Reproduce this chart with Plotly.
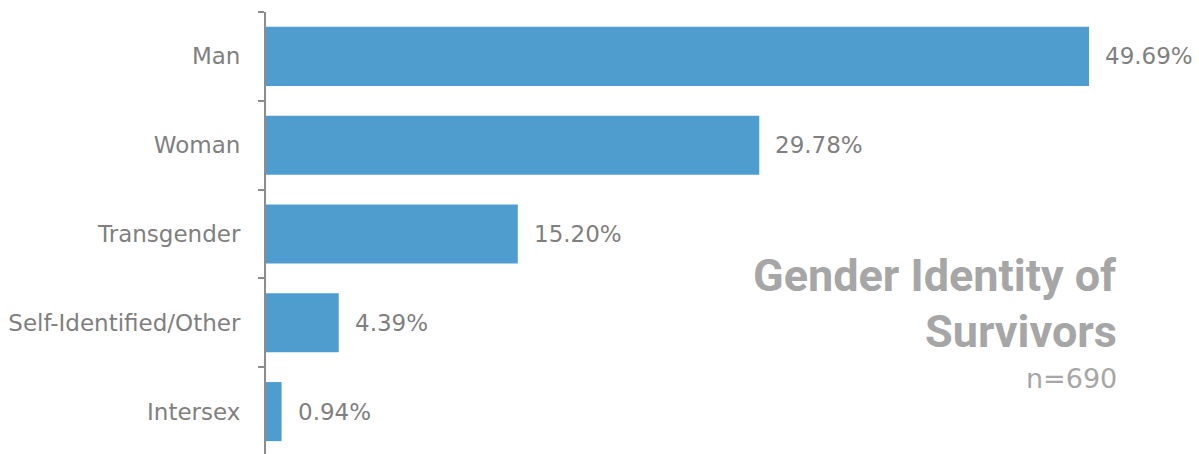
import plotly.graph_objects as go

categories = ["Man", "Woman", "Transgender", "Self-Identified/Other", "Intersex"]
values = [49.69, 29.78, 15.20, 4.39, 0.94]
labels = ["49.69%", "29.78%", "15.20%", "4.39%", "0.94%"]

W, H = 1199, 458
ml, mr, mt, mb = 266, 22, 12, 2
pw, ph = W - ml - mr, H - mt - mb

LABEL_FONT = "DejaVu Sans"
GRAY = "#7F7F7F"

fig = go.Figure(go.Bar(
    y=categories, x=values, orientation="h",
    marker=dict(color="#4E9DCE", line=dict(width=0)),
    width=0.665,
))

for v, c, t in zip(values, categories, labels):
    fig.add_annotation(
        x=v, y=c, xref="x", yref="y", text=t, showarrow=False,
        xanchor="left", yanchor="middle", xshift=14,
        font=dict(family=LABEL_FONT, size=23, color=GRAY),
    )

fig.update_layout(
    width=W, height=H,
    margin=dict(l=ml, r=mr, t=mt, b=mb, autoexpand=False),
    plot_bgcolor="white", paper_bgcolor="white",
    showlegend=False,
    font=dict(family=LABEL_FONT, size=23, color=GRAY),
)
fig.update_xaxes(range=[0, 55], visible=False, showgrid=False)
fig.update_yaxes(
    autorange="reversed", showline=True, linecolor="#8C8C8C", linewidth=2,
    ticks="outside", tickson="boundaries", ticklen=6, tickcolor="#8C8C8C", tickwidth=2,
    showgrid=False, tickfont=dict(family=LABEL_FONT, size=23, color=GRAY),
    ticklabelstandoff=19, automargin=False,
)

def py(pix):
    return 1 - (pix - mt) / ph

xr = (1119 - ml) / pw
fig.add_annotation(xref="paper", yref="paper", x=xr, y=py(275), xanchor="right", yanchor="middle",
                   showarrow=False, text="<b>Gender Identity of</b>",
                   font=dict(family="Roboto", size=45, color="#A6A6A6"))
fig.add_annotation(xref="paper", yref="paper", x=xr, y=py(331), xanchor="right", yanchor="middle",
                   showarrow=False, text="<b>Survivors</b>",
                   font=dict(family="Roboto", size=45, color="#A6A6A6"))
fig.add_annotation(xref="paper", yref="paper", x=xr, y=py(378), xanchor="right", yanchor="middle",
                   showarrow=False, text="n=690",
                   font=dict(family=LABEL_FONT, size=27, color="#A6A6A6"))

fig.write_html("out.html", config={"displayModeBar": False},
               post_script="document.body.style.margin='0px';document.body.style.overflow='hidden';")
